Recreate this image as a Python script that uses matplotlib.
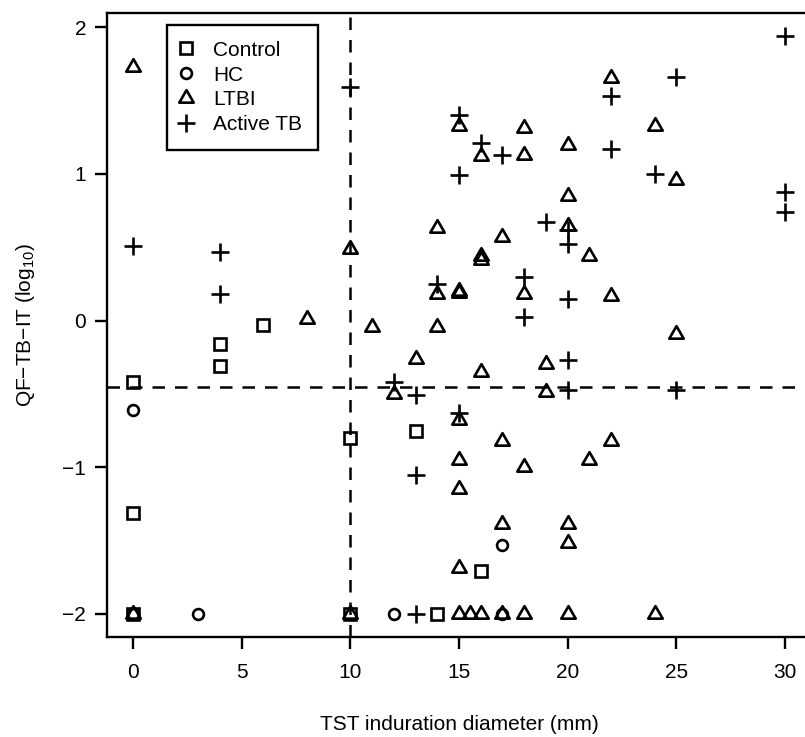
import matplotlib
matplotlib.use("Agg")
import matplotlib.pyplot as plt
from matplotlib.path import Path
import numpy as np

# --------------------------------------------------------------------------------------------------
# Data: TST induration (mm) against QF-TB-IT (log10)
# --------------------------------------------------------------------------------------------------

control_x = [0, 0, 0, 4, 4, 6, 10, 10, 13, 14, 16]
control_y = [-0.42, -1.31, -2.0, -0.16, -0.31, -0.03, -0.80, -2.0, -0.75, -2.0, -1.71]

hc_x = [0, 0, 3, 12, 17, 17]
hc_y = [-0.61, -2.0, -2.0, -2.0, -1.53, -2.0]

ltbi_x = [0, 0, 8, 10, 10, 11, 12, 13, 14, 14, 14,
          15, 15, 15, 15, 15, 15, 15, 15, 15.5,
          16, 16, 16, 16, 16, 17, 17, 17, 17,
          18, 18, 18, 18, 18, 19, 19,
          20, 20, 20, 20, 20, 20, 21, 21,
          22, 22, 22, 24, 24, 25, 25]
ltbi_y = [1.73, -2.0, 0.01, 0.49, -2.0, -0.045, -0.50, -0.26, 0.63, 0.18, -0.045,
          1.33, 0.19, 0.20, -0.68, -0.95, -1.15, -1.69, -2.0, -2.0,
          1.12, 0.44, 0.41, -0.35, -2.0, 0.567, -0.82, -1.39, -2.0,
          1.31, 1.13, 0.18, -1.0, -2.0, -0.295, -0.49,
          1.20, 0.85, 0.645, -1.39, -1.52, -2.0, 0.44, -0.95,
          1.655, 0.17, -0.82, 1.33, -2.0, 0.96, -0.09]

tb_x = [0, 4, 4, 10, 12, 13, 13, 13, 14, 15, 15, 15, 16, 17, 18, 18,
        19, 20, 20, 20, 20, 20, 22, 22, 24, 25, 25, 30, 30, 30]
tb_y = [0.51, 0.465, 0.18, 1.59, -0.42, -0.51, -1.05, -2.0, 0.25, 1.40, 0.99, -0.63,
        1.21, 1.13, 0.295, 0.023, 0.67, 0.62, 0.52, 0.148, -0.27, -0.47,
        1.53, 1.17, 1.00, 1.66, -0.47, 1.94, 0.88, 0.74]

# cut-offs: 10 mm TST and 0.35 IU/ml QFT
tst_cut = 10
qft_cut = np.log10(0.35)

# --------------------------------------------------------------------------------------------------

plt.rcParams['font.family'] = ['Liberation Sans', 'DejaVu Sans']
plt.rcParams['mathtext.default'] = 'regular'

# R style triangle (centroid at the data point)
tri = Path([(0, 1.555), (1.347, -0.778), (-1.347, -0.778), (0, 1.555)],
           [Path.MOVETO, Path.LINETO, Path.LINETO, Path.CLOSEPOLY])

fig = plt.figure(figsize=(8.05, 7.37), dpi=100)
ax = fig.add_axes([0.1329, 0.1357, 0.8745, 0.8467])

mk = dict(linestyle='none', color='black', markerfacecolor='none', markeredgewidth=1.9)
ax.plot(control_x, control_y, marker='s', markersize=8.2, label='Control', **mk)
ax.plot(hc_x, hc_y, marker='o', markersize=7.8, label='HC', **mk)
ax.plot(ltbi_x, ltbi_y, marker=tri, markersize=12, label='LTBI', **mk)
ax.plot(tb_x, tb_y, marker='+', markersize=13, label='Active TB', **mk)

# cut-off lines
ax.axvline(tst_cut, color='black', lw=1.8, linestyle=(0, (5, 4)))
ax.axhline(qft_cut, color='black', lw=1.8, linestyle=(0, (5, 4)))

# R like axis ranges (4 % extension)
allx = np.concatenate([control_x, hc_x, ltbi_x, tb_x])
ally = np.concatenate([control_y, hc_y, ltbi_y, tb_y])
dx = 0.04 * (allx.max() - allx.min())
dy = 0.04 * (ally.max() - ally.min())
ax.set_xlim(allx.min() - dx, allx.max() + dx)
ax.set_ylim(ally.min() - dy, ally.max() + dy)

ax.set_xticks([0, 5, 10, 15, 20, 25, 30])
ax.set_yticks([-2, -1, 0, 1, 2])
ax.set_yticklabels(['\u22122', '\u22121', '0', '1', '2'])
ax.tick_params(axis='both', direction='out', length=8.6, width=1.7, labelsize=15)
ax.tick_params(axis='x', pad=10)
ax.tick_params(axis='y', pad=6.5)
for s in ax.spines.values():
    s.set_linewidth(1.7)

ax.set_xlabel('TST induration diameter (mm)', fontsize=15, labelpad=24)
ax.set_ylabel('QF\u2212TB\u2212IT (log$_{10}$)', fontsize=15, labelpad=18)

leg = ax.legend(loc='upper left', bbox_to_anchor=(0.0852, 0.9808), borderaxespad=0,
                fontsize=15, fancybox=False, edgecolor='black', framealpha=1,
                numpoints=1, borderpad=0.76, handlelength=0.28, handletextpad=1.17,
                labelspacing=0.28)
leg.get_frame().set_linewidth(1.7)

plt.savefig('out.png', dpi=100)
